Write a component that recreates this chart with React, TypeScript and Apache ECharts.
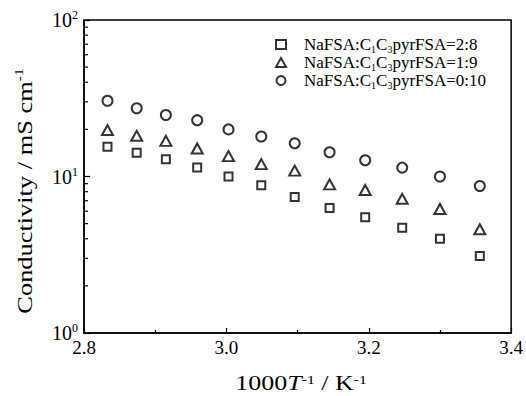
import React, { useEffect, useRef } from "react";
import * as echarts from "echarts";

// 1000/T in K^-1 (80 °C down to 25 °C in 5 °C steps)
const invT = [2.833, 2.874, 2.915, 2.959, 3.003, 3.049, 3.096, 3.145, 3.195, 3.247, 3.3, 3.356];

// Ionic conductivity in mS cm^-1
const sigma28 = [15.5, 14.2, 12.9, 11.4, 10.0, 8.8, 7.4, 6.3, 5.5, 4.7, 4.0, 3.1];
const sigma19 = [19.8, 18.2, 16.9, 15.1, 13.5, 12.0, 10.9, 8.9, 8.2, 7.2, 6.2, 4.6];
const sigma010 = [30.5, 27.3, 24.7, 22.9, 20.0, 18.0, 16.3, 14.3, 12.7, 11.4, 10.0, 8.7];

const ratios = ["2:8", "1:9", "0:10"];
const seriesNames = ratios.map((r) => `NaFSA:C1C3pyrFSA=${r}`);
const symbols = ["emptyRect", "emptyTriangle", "emptyCircle"];
const symbolSizes: (number | number[])[] = [8, [11, 10], 10];

const xTicks = [2.8, 3.0, 3.2, 3.4];
const yMinorTicks = [2, 3, 4, 5, 6, 7, 8, 9, 20, 30, 40, 50, 60, 70, 80, 90];

const FONT = "Liberation Serif, Times New Roman, serif";

export default function App() {
  const ref = useRef<HTMLDivElement>(null);

  useEffect(() => {
    if (!ref.current) return;
    const chart = echarts.init(ref.current, undefined, { renderer: "svg" });
    const seriesData = [sigma28, sigma19, sigma010];

    const scatter = seriesData.map((vals, i) => ({
      name: seriesNames[i],
      type: "scatter",
      symbol: symbols[i],
      symbolSize: symbolSizes[i],
      data: vals.map((v, k) => [invT[k], v]),
      itemStyle: { color: "#000", borderColor: "#000", borderWidth: 1.6 },
      z: 3,
    }));

    chart.setOption({
      animation: false,
      backgroundColor: "#fff",
      textStyle: { fontFamily: FONT, color: "#000" },
      grid: {
        left: 84,
        right: 14,
        top: 20,
        bottom: 63,
        show: true,
        borderColor: "#000",
        borderWidth: 1.5,
        backgroundColor: "transparent",
      },
      legend: {
        orient: "vertical",
        left: 270,
        top: 31,
        itemWidth: 10,
        itemHeight: 9,
        itemGap: 0,
        data: seriesNames.map((n, i) => ({ name: n, icon: symbols[i] })),
        formatter: (name: string) => {
          const r = name.split("=")[1];
          return `{g|}{a|NaFSA:C}{s|1}{a|C}{s|3}{a|pyrFSA=${r}}`;
        },
        textStyle: {
          rich: {
            g: { width: 13, lineHeight: 19 },
            a: { fontFamily: FONT, fontSize: 17, lineHeight: 19, color: "#000" },
            s: { fontFamily: FONT, fontSize: 10, lineHeight: 11, verticalAlign: "bottom", color: "#000" },
          },
        },
      },
      xAxis: {
        type: "value",
        min: 2.8,
        max: 3.4,
        interval: 0.2,
        axisLine: { lineStyle: { color: "#000", width: 1.5 } },
        axisTick: { inside: true, length: 5, lineStyle: { color: "#000", width: 1.2 } },
        minorTick: { show: true, splitNumber: 2, length: 3, lineStyle: { color: "#000", width: 1.2 } },
        splitLine: { show: false },
        axisLabel: {
          margin: 5,
          fontFamily: FONT,
          fontSize: 19,
          color: "#000",
          formatter: (v: number) => (xTicks.some((t) => Math.abs(t - v) < 1e-6) ? v.toFixed(1) : ""),
        },
      },
      yAxis: {
        type: "log",
        logBase: 10,
        min: 1,
        max: 100,
        axisLine: { lineStyle: { color: "#000", width: 1.5 } },
        axisTick: { inside: true, length: 6, lineStyle: { color: "#000", width: 1.2 } },
        splitLine: { show: false },
        axisLabel: {
          margin: 6,
          formatter: (v: number) => `{b|10}{e|${Math.round(Math.log10(v))}}`,
          rich: {
            b: { fontFamily: FONT, fontSize: 20, lineHeight: 22, color: "#000" },
            e: { fontFamily: FONT, fontSize: 12, lineHeight: 12, verticalAlign: "top", color: "#000" },
          },
        },
      },
      graphic: [
        {
          type: "text",
          x: 301,
          y: 383,
          scaleX: 1.3,
          style: {
            text: "{a|1000}{i|T}{s|-1}{a| / K}{s|-1}",
            align: "center",
            verticalAlign: "middle",
            rich: {
              a: { fontFamily: FONT, fontSize: 20, lineHeight: 18, fill: "#000" },
              i: { fontFamily: FONT, fontSize: 20, lineHeight: 18, fontStyle: "italic", fill: "#000" },
              s: { fontFamily: FONT, fontSize: 12, lineHeight: 10, verticalAlign: "top", fill: "#000" },
            },
          },
        },
        {
          type: "text",
          x: 24,
          y: 191,
          rotation: Math.PI / 2,
          scaleX: 1.2,
          style: {
            text: "{a|Conductivity / mS cm}{s|-1}",
            align: "center",
            verticalAlign: "middle",
            rich: {
              a: { fontFamily: FONT, fontSize: 22, lineHeight: 24, fill: "#000" },
              s: { fontFamily: FONT, fontSize: 13, lineHeight: 13, verticalAlign: "top", fill: "#000" },
            },
          },
        },
      ],
      series: [
        ...scatter,
        {
          type: "custom",
          silent: true,
          z: 4,
          data: yMinorTicks.map((v) => [2.8, v]),
          renderItem: (_p: any, api: any) => {
            const pt = api.coord([api.value(0), api.value(1)]);
            return {
              type: "line",
              shape: { x1: pt[0], y1: pt[1], x2: pt[0] + 4, y2: pt[1] },
              style: { stroke: "#000", lineWidth: 1.2 },
            };
          },
        },
      ],
    });

    return () => chart.dispose();
  }, []);

  return (
    <div
      ref={ref}
      style={{ position: "fixed", left: 0, top: 0, width: 526, height: 396, background: "#fff" }}
    />
  );
}
